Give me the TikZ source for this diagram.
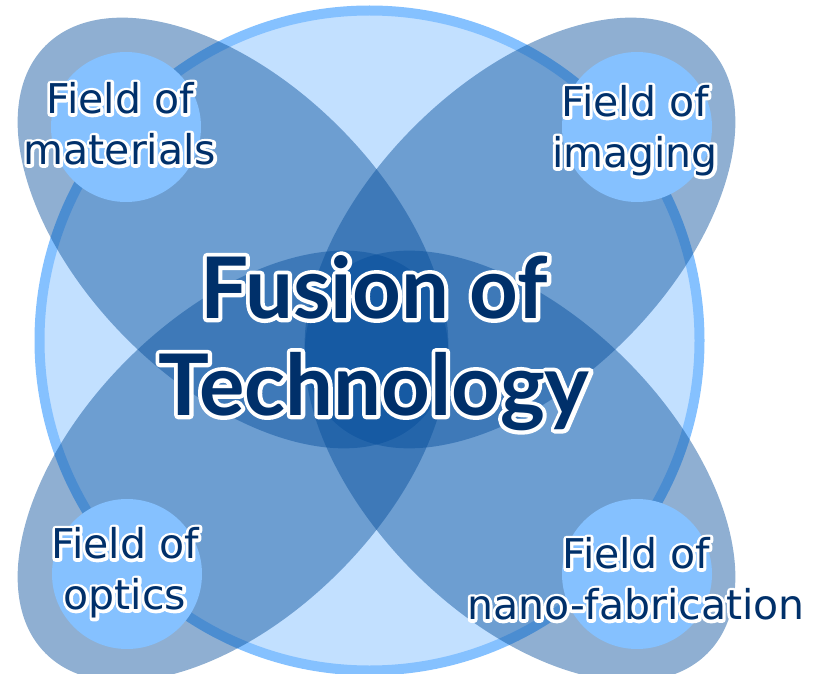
\documentclass[tikz,border=0pt]{standalone}
\usepackage{fontspec}
\setmainfont{DejaVu Sans}
\newfontfamily\titlefont{Lato}
\usetikzlibrary{positioning}
\definecolor{ringblue}{HTML}{85C1FF}
\definecolor{discblue}{HTML}{C2E0FF}
\definecolor{petalblue}{HTML}{064E9B}
\definecolor{inknavy}{HTML}{00306A}
% white halo behind a line of text
\newcommand\haloed[2]{\leavevmode\rlap{\color{white}\special{pdf:literal direct 2 Tr #1 w 1 j}#2\special{pdf:literal direct 0 Tr 1 w}}#2}
\tikzset{
    disc/.style={
        fill=discblue,
        draw=ringblue,
        line width=10pt
    },
    petal/.style={
        fill=petalblue,
        fill opacity=0.45
    },
    field/.style={
        circle,
        fill=ringblue,
        minimum size=150pt,
        inner sep=0pt
    },
    fieldlabel/.style={
        align=center,
        text=inknavy,
        font=\fontsize{41}{51}\selectfont
    },
    fusionlabel/.style={
        align=center,
        text=inknavy,
        font=\titlefont\bfseries\fontsize{85}{97}\selectfont
    }
}

\begin{document}
\begin{tikzpicture}[x=1pt, y=-1pt]
\useasboundingbox (0,0) rectangle (814,674);

% Background disc
\coordinate (hub) at (369.5,340.5);
\draw[disc] (hub) circle (330pt);

% Petals
\coordinate (ptl) at (233,233);
\coordinate (ptr) at (520,233);
\coordinate (pbl) at (233,466);
\coordinate (pbr) at (520,466);
\fill[petal, rotate around={-45:(ptl)}] (ptl) ellipse (265pt and 150pt);
\fill[petal, rotate around={45:(ptr)}] (ptr) ellipse (265pt and 150pt);
\fill[petal, rotate around={45:(pbl)}] (pbl) ellipse (265pt and 150pt);
\fill[petal, rotate around={-45:(pbr)}] (pbr) ellipse (265pt and 150pt);

% Field circles
\node[field] (matdisc) at (126,127) {};
\node[field] (imgdisc) at (637,127) {};
\node[field] (optdisc) at (127,574) {};
\node[field] (nanodisc) at (637,574) {};

% Field labels
\node[fieldlabel] (materials) at (120,124) {\haloed{6}{Field of}\\\haloed{6}{materials}};
\node[fieldlabel] (imaging) at (635,131) {\haloed{6}{Field of}\\\haloed{6}{imaging}};
\node[fieldlabel] (optics) at (125,573) {\haloed{6}{Field of}\\\haloed{6}{optics}};
\node[fieldlabel] (nano) at (636,579) {\haloed{6}{Field of}\\\haloed{6}{nano-fabrication}};

% Centre
\node[fusionlabel] (fusion) at (374,343) {\haloed{8}{Fusion of}\\\haloed{8}{Technology}};

\end{tikzpicture}
\end{document}
